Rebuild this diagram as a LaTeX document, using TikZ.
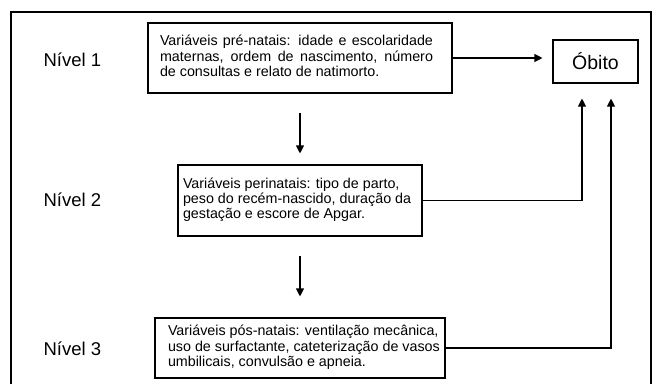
\documentclass[tikz,border=0pt]{standalone}
\usepackage{fontspec}
\setmainfont{Liberation Sans}
\usetikzlibrary{arrows.meta}
\newcommand\boxlines[3]{\hbox to #2pt{\hskip#1pt\begin{tabular}[c]{@{}l@{}}#3\end{tabular}\hss}}
\begin{document}
\begin{tikzpicture}[x=1pt,y=-1pt,
  line width=1.1pt,
  vbox/.style={draw, inner sep=0pt, font=\fontsize{14.3}{15.3}\selectfont},
  lvl/.style={anchor=west, inner sep=0pt, font=\fontsize{18.5}{20}\selectfont},
  arr/.style={-{Triangle[length=8pt,width=8pt]}}]
\useasboundingbox (0,0) rectangle (657,384);
\draw (11,384) -- (11,12) -- (651,12) -- (651,384);

\node[lvl] (n1) at (43,60) {Nível 1};
\node[lvl] (n2) at (43,200) {Nível 2};
\node[lvl] (n3) at (43,349) {Nível 3};

\node[vbox, minimum width=304pt, minimum height=70pt] (b1) at (300,58)
  {\boxlines{12}{304}{\makebox[273pt][s]{Variáveis pré-natais: idade e escolaridade}\\
  \makebox[273pt][s]{maternas, ordem de nascimento, número}\\
  de consultas e relato de natimorto.}};
\node[vbox, minimum width=244pt, minimum height=71pt] (b2) at (300,200.5)
  {\boxlines{5}{244}{Variáveis perinatais: tipo de parto,\\
  peso do recém-nascido, duração da\\
  gestação e escore de Apgar.}};
\node[vbox, minimum width=290pt, minimum height=60pt] (b3) at (300,348)
  {\boxlines{13}{290}{Variáveis pós-natais: ventilação mecânica,\\
  uso de surfactante, cateterização de vasos\\
  umbilicais, convulsão e apneia.}};
\node[draw, inner sep=0pt, minimum width=85pt, minimum height=43pt,
  font=\fontsize{19.5}{21}\selectfont] (ob) at (595.5,61.5) {Óbito};

\coordinate (ob1) at ([xshift=-13.5pt]ob.south);
\coordinate (ob2) at ([xshift=15.5pt]ob.south);

\draw[arr, shorten >=10pt] (b1.east) -- (b1.east -| ob.west);
\draw[arr, shorten <=19pt, shorten >=11pt] (b1.south) -- (b2.north);
\draw[arr, shorten <=19pt, shorten >=21pt] (b2.south) -- (b3.north);
\draw[arr, shorten >=15pt] (b2.east) -| (ob1);
\draw[arr, shorten >=15pt] (b3.east) -| (ob2);
\end{tikzpicture}
\end{document}
